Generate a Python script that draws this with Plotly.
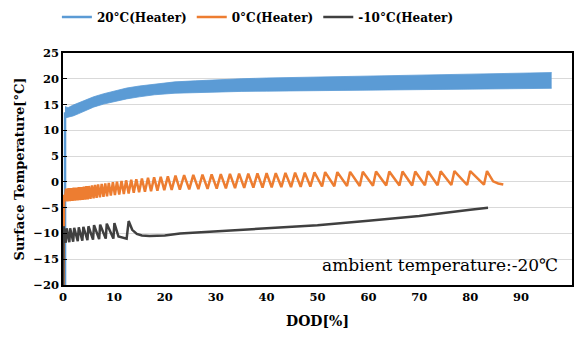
import plotly.graph_objects as go

# ---------------- data ----------------
# 20°C heater: dense oscillation drawn as its min/max envelope
blue_start_dod = [0.4, 0.4]
blue_start_temp = [-20.0, 13.5]
blue_dod = [0.4, 1, 2, 3, 4.5, 6, 8, 10, 12.5, 15, 18, 22, 26, 30, 35, 40, 50, 60, 70, 80, 90, 96]
blue_upper = [14.6, 14.4, 14.9, 15.3, 15.9, 16.5, 17.1, 17.6, 18.2, 18.6, 19.0, 19.4, 19.6, 19.8,
              20.0, 20.15, 20.35, 20.55, 20.75, 20.9, 21.05, 21.2]
blue_lower = [12.4, 12.5, 12.8, 13.2, 13.8, 14.5, 15.1, 15.6, 16.1, 16.5, 16.9, 17.2, 17.35, 17.45,
              17.55, 17.6, 17.7, 17.8, 17.9, 18.0, 18.1, 18.15]

# 0°C heater: trough (before each peak) and peak of every cycle
orange_start_dod = [0.1, 0.2]
orange_start_temp = [-20.0, -2.5]
orange_trough_dod = [0.3, 0.85, 1.35, 1.85, 2.35, 2.85, 3.35, 3.85, 4.35, 4.85,
                     5.4, 6.0, 6.6, 7.25, 7.95, 8.65, 9.4, 10.2, 11.05, 11.95,
                     12.9, 13.9, 14.95, 16.1, 17.3, 18.55, 19.9, 21.35, 22.95, 24.8,
                     26.6, 28.4, 30.2, 32.0, 33.8, 35.6, 37.4, 39.2, 41.0, 42.9,
                     44.8, 46.7, 48.6, 50.9, 53.3, 55.8, 58.3, 60.9, 63.5, 66.1,
                     68.6, 71.1, 73.6, 76.3, 79.4, 82.7]
orange_trough_temp = [-3.8, -3.8, -3.75, -3.7, -3.65, -3.6, -3.55, -3.5, -3.45, -3.4,
                      -3.3, -3.2, -3.1, -3.0, -2.9, -2.8, -2.65, -2.55, -2.45, -2.35,
                      -2.25, -2.1, -2.0, -1.9, -1.8, -1.7, -1.6, -1.55, -1.5, -1.45,
                      -1.4, -1.35, -1.3, -1.25, -1.2, -1.15, -1.1, -1.1, -1.05, -1.0,
                      -1.0, -0.95, -0.9, -0.9, -0.85, -0.8, -0.8, -0.75, -0.7, -0.7,
                      -0.7, -0.65, -0.65, -0.6, -0.6, -0.55]
orange_peak_dod = [0.6, 1.1, 1.6, 2.1, 2.6, 3.1, 3.6, 4.1, 4.6, 5.1,
                   5.7, 6.3, 6.9, 7.6, 8.3, 9.0, 9.8, 10.6, 11.5, 12.4,
                   13.4, 14.4, 15.5, 16.7, 17.9, 19.2, 20.6, 22.1, 23.8, 25.6,
                   27.4, 29.2, 31.0, 32.8, 34.6, 36.4, 38.2, 40.0, 41.8, 43.7,
                   45.6, 47.5, 49.4, 51.5, 53.9, 56.4, 58.9, 61.5, 64.1, 66.7,
                   69.2, 71.7, 74.2, 76.9, 80.0, 83.3]
orange_peak_temp = [-1.3, -1.2, -1.2, -1.1, -1.1, -1.0, -1.0, -0.9, -0.8, -0.8,
                    -0.7, -0.6, -0.5, -0.4, -0.3, -0.2, -0.05, 0.05, 0.2, 0.3,
                    0.4, 0.5, 0.65, 0.8, 0.9, 1.0, 1.1, 1.2, 1.3, 1.35,
                    1.4, 1.45, 1.5, 1.55, 1.6, 1.6, 1.65, 1.7, 1.7, 1.75,
                    1.8, 1.8, 1.85, 1.9, 1.9, 1.95, 1.95, 2.0, 2.0, 2.0,
                    2.0, 2.05, 2.05, 2.1, 2.1, 2.1]
orange_tail_dod = [84.5, 85.5, 86.5]
orange_tail_temp = [0.1, -0.3, -0.5]

# -10°C heater
black_dod = [0.0, 0.1, 0.55, 0.7, 1.25, 1.4, 2.0, 2.2, 2.9, 3.1, 3.8, 4.0, 4.8, 5.0,
             5.9, 6.1, 7.1, 7.3, 8.4, 8.6, 9.9, 10.1, 10.9, 12.5, 12.9, 13.6, 14.5,
             15.5, 17, 20, 23, 30, 40, 50, 60, 70, 80, 83.5]
black_temp = [-20.0, -8.6, -11.8, -9.0, -11.7, -9.0, -11.6, -8.9, -11.5, -8.8, -11.4, -8.7,
              -11.3, -8.6, -11.2, -8.4, -11.1, -8.3, -11.0, -8.1, -11.0, -8.0, -10.6, -11.0,
              -7.6, -9.3, -10.1, -10.4, -10.5, -10.4, -10.0, -9.62, -9.06, -8.4, -7.55,
              -6.6, -5.4, -5.0]

series_names = ["20°C(Heater)", "0°C(Heater)", "-10°C(Heater)"]
colors = ["#5B9BD5", "#ED7D31", "#404040"]
x_ticks = [0, 10, 20, 30, 40, 50, 60, 70, 80, 90, 100]
y_ticks = [-20, -15, -10, -5, 0, 5, 10, 15, 20, 25]

# ---------------- build ----------------
orange_x = list(orange_start_dod)
orange_y = list(orange_start_temp)
for td, tt, pd_, pt in zip(orange_trough_dod, orange_trough_temp, orange_peak_dod, orange_peak_temp):
    orange_x += [td, pd_]
    orange_y += [tt, pt]
orange_x += orange_tail_dod
orange_y += orange_tail_temp

FONT = "DejaVu Serif"
fig = go.Figure()

fig.add_trace(go.Scatter(x=blue_start_dod, y=blue_start_temp, mode="lines",
                         line=dict(color=colors[0], width=2.5), name=series_names[0]))
fig.add_trace(go.Scatter(x=blue_dod, y=blue_upper, mode="lines",
                         line=dict(color=colors[0], width=0.8), showlegend=False, hoverinfo="skip"))
fig.add_trace(go.Scatter(x=blue_dod, y=blue_lower, mode="lines", fill="tonexty",
                         fillcolor=colors[0], line=dict(color=colors[0], width=0.8),
                         showlegend=False, hoverinfo="skip"))
fig.add_trace(go.Scatter(x=orange_x, y=orange_y, mode="lines",
                         line=dict(color=colors[1], width=2.5), name=series_names[1]))
fig.add_trace(go.Scatter(x=black_dod, y=black_temp, mode="lines",
                         line=dict(color=colors[2], width=2.5), name=series_names[2]))

fig.add_annotation(x=97.6, y=-16.2, xref="x", yref="y", xanchor="right", yanchor="middle",
                   text="ambient temperature:-20℃", showarrow=False,
                   font=dict(family=FONT, size=17, color="black"))

# the page body adds an 8px offset, so the figure is 8px smaller on each axis
fig.update_layout(
    width=576, height=332,
    margin=dict(l=55, r=12, t=45, b=55, autoexpand=False),
    paper_bgcolor="white", plot_bgcolor="white",
    font=dict(family=FONT, color="black"),
    legend=dict(orientation="h", x=-0.012, xanchor="left", y=1.155, yanchor="middle",
                traceorder="normal",
                font=dict(family=FONT, size=12, color="black", weight="bold"),
                itemwidth=30, bgcolor="rgba(0,0,0,0)"),
    xaxis=dict(range=[0, 100], tickvals=x_ticks, showgrid=False, zeroline=False,
               showline=True, linecolor="black", linewidth=1.5, mirror=True, ticks="",
               tickfont=dict(family=FONT, size=11.5, color="black", weight="bold"),
               title=dict(text="DOD[%]", font=dict(family=FONT, size=14, color="black", weight="bold"),
                          standoff=14)),
    yaxis=dict(range=[-20, 25], tickvals=y_ticks, showgrid=True, gridcolor="#D9D9D9", gridwidth=1.2,
               zeroline=False, showline=True, linecolor="black", linewidth=1.5, mirror=True,
               ticks="inside", ticklen=4, tickcolor="black",
               tickfont=dict(family=FONT, size=11.5, color="black", weight="bold"),
               title=dict(text="Surface Temperature[°C]",
                          font=dict(family=FONT, size=13, color="black", weight="bold"),
                          standoff=6)),
)

fig.write_html("out.html")
